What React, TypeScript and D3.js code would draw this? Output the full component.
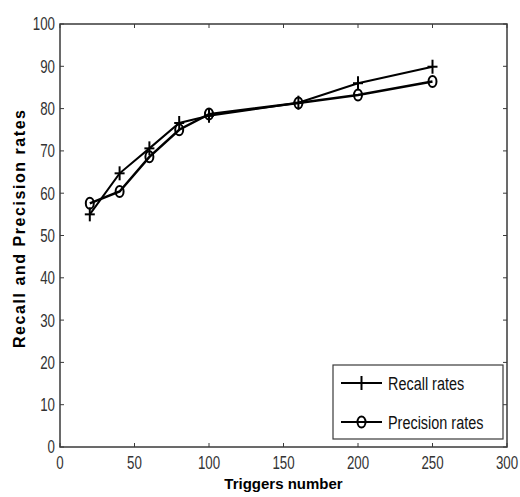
import React from "react";
import * as d3 from "d3";

const triggers = [20, 40, 60, 80, 100, 160, 200, 250];
const recallRates = [55, 64.7, 70.6, 76.6, 78.3, 81.4, 86, 89.9];
const precisionRates = [57.6, 60.4, 68.6, 75, 78.7, 81.3, 83.2, 86.4];
const xTicks = [0, 50, 100, 150, 200, 250, 300];
const yTicks = [0, 10, 20, 30, 40, 50, 60, 70, 80, 90, 100];

const W = 520;
const H = 497;
const left = 60;
const right = 507;
const top = 24;
const bottom = 447;
const sansFont = "'Liberation Sans', Arial, sans-serif";
const axisColor = "#3a3a3a";

// MATLAB-ish condensed text: regular sans squeezed horizontally
function NarrowText({ x, y, anchor = "start", size = 18, sx = 0.74, fill = "#333", children }: any) {
  return (
    <text
      transform={`translate(${x},${y}) scale(${sx},1)`}
      textAnchor={anchor}
      dy="0.36em"
      fontFamily={sansFont}
      fontSize={size}
      fill={fill}
    >
      {children}
    </text>
  );
}

export default function App() {
  const x = d3.scaleLinear().domain([0, 300]).range([left, right]);
  const y = d3.scaleLinear().domain([0, 100]).range([bottom, top]);
  const line = d3
    .line<number>()
    .x((_, i) => x(triggers[i]))
    .y(d => y(d));

  const plus = (cx: number, cy: number, key: string) => (
    <g key={key} stroke="#000" strokeWidth={2}>
      <line x1={cx - 5} x2={cx + 5} y1={cy} y2={cy} />
      <line x1={cx} x2={cx} y1={cy - 7} y2={cy + 7} />
    </g>
  );
  const ring = (cx: number, cy: number, key: string) => (
    <ellipse key={key} cx={cx} cy={cy} rx={4} ry={5.5} fill="none" stroke="#000" strokeWidth={2} />
  );

  return (
    <svg width={W} height={H} style={{ position: "absolute", left: 0, top: 0, background: "#fff" }}>
      <rect x={0} y={0} width={W} height={H} fill="#fff" />
      {/* axes box */}
      <rect x={left} y={top} width={right - left} height={bottom - top} fill="none" stroke={axisColor} strokeWidth={1.5} />
      {xTicks.map(t => (
        <g key={"x" + t}>
          <line x1={x(t)} x2={x(t)} y1={bottom} y2={bottom - 4} stroke={axisColor} />
          <line x1={x(t)} x2={x(t)} y1={top} y2={top + 4} stroke={axisColor} />
          <NarrowText x={x(t)} y={463} anchor="middle">
            {t}
          </NarrowText>
        </g>
      ))}
      {yTicks.map(t => (
        <g key={"y" + t}>
          <line x1={left} x2={left + 4} y1={y(t)} y2={y(t)} stroke={axisColor} />
          <line x1={right} x2={right - 4} y1={y(t)} y2={y(t)} stroke={axisColor} />
          <NarrowText x={55} y={y(t)} anchor="end">
            {t}
          </NarrowText>
        </g>
      ))}
      {/* series */}
      <path d={line(recallRates) || ""} fill="none" stroke="#000" strokeWidth={2} />
      <path d={line(precisionRates) || ""} fill="none" stroke="#000" strokeWidth={2.5} />
      {recallRates.map((v, i) => plus(x(triggers[i]), y(v), "r" + i))}
      {precisionRates.map((v, i) => ring(x(triggers[i]), y(v), "p" + i))}
      {/* labels */}
      <text x={(left + right) / 2} y={489} textAnchor="middle" fontFamily={sansFont} fontWeight="bold" fontSize={15} fill="#000">
        Triggers number
      </text>
      <text
        transform={`translate(25,229) rotate(-90)`}
        textAnchor="middle"
        fontFamily={sansFont}
        fontWeight="bold"
        fontSize={16}
        textLength={238}
        lengthAdjust="spacing"
        fill="#000"
      >
        Recall and Precision rates
      </text>
      {/* legend */}
      <rect x={333} y={365} width={170} height={74} fill="#fff" stroke={axisColor} strokeWidth={1.2} />
      <line x1={341} x2={382} y1={383} y2={383} stroke="#000" strokeWidth={2} />
      {plus(361.5, 383, "lp")}
      <NarrowText x={388} y={383} size={19} sx={0.76} fill="#111">
        Recall rates
      </NarrowText>
      <line x1={341} x2={382} y1={422} y2={422} stroke="#000" strokeWidth={2} />
      {ring(361.5, 422, "lr")}
      <NarrowText x={388} y={422} size={19} sx={0.76} fill="#111">
        Precision rates
      </NarrowText>
    </svg>
  );
}
